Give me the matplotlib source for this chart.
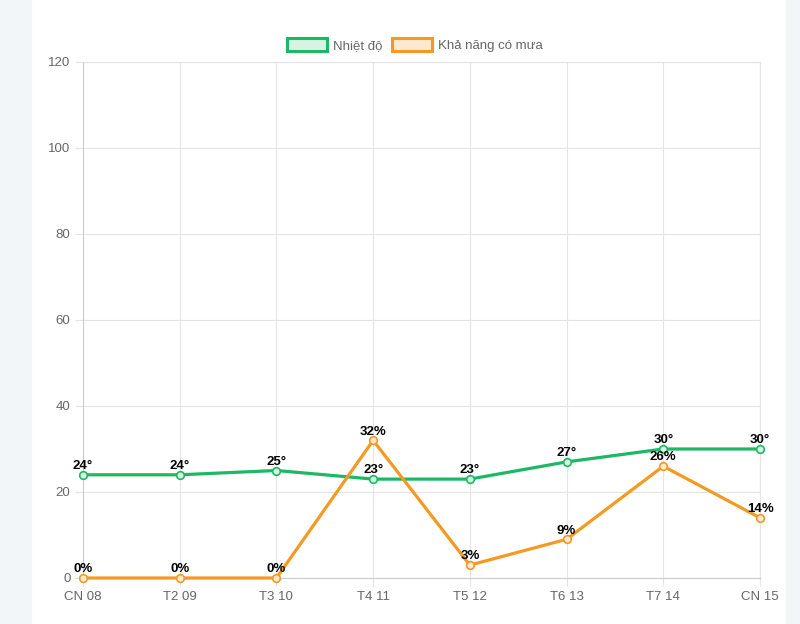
import numpy as np
import matplotlib
matplotlib.use('Agg')
import matplotlib.pyplot as plt
from matplotlib.patches import Patch, Rectangle

plt.rcParams['font.family'] = ['Liberation Sans', 'DejaVu Sans']

days = ['CN 08', 'T2 09', 'T3 10', 'T4 11', 'T5 12', 'T6 13', 'T7 14', 'CN 15']
temp = [24, 24, 25, 23, 23, 27, 30, 30]
rain = [0, 0, 0, 32, 3, 9, 26, 14]
yticks = [0, 20, 40, 60, 80, 100, 120]

green = '#1cb864'
orange = '#f49a23'

fig = plt.figure(figsize=(8, 6.24), dpi=100)
fig.patch.set_facecolor('white')
# grey page margins
fig.patches.append(Rectangle((0, 0), 31/800, 1, transform=fig.transFigure,
                             color='#f3f6f8', zorder=-1))
fig.patches.append(Rectangle((786/800, 0), 14/800, 1, transform=fig.transFigure,
                             color='#f3f6f8', zorder=-1))

ax = fig.add_axes([83/800, 46/624, 677/800, 516/624])
x = np.arange(len(days))

ax.plot(x, temp, color=green, lw=2.3, marker='o', ms=5.5,
        mfc='#d6f3e3', mec=green, mew=1.2, zorder=3, clip_on=False)
ax.plot(x, rain, color=orange, lw=2.3, marker='o', ms=5.5,
        mfc='#fde9cf', mec=orange, mew=1.2, zorder=3, clip_on=False)

for i in range(len(days)):
    ax.annotate(f'{temp[i]}°', (x[i], temp[i]), xytext=(0, 2),
                textcoords='offset points', ha='center', va='bottom',
                fontsize=9.5, fontweight='bold', color='black', zorder=5)
    ax.annotate(f'{rain[i]}%', (x[i], rain[i]), xytext=(0, 2),
                textcoords='offset points', ha='center', va='bottom',
                fontsize=9.5, fontweight='bold', color='black', zorder=5)

ax.set_xlim(0, len(days) - 1)
ax.set_ylim(0, 120)
ax.set_xticks(x)
ax.set_xticklabels(days)
ax.set_yticks(yticks)
ax.grid(True, color='#e4e4e4', lw=0.8)
ax.set_axisbelow(True)
for s in ax.spines.values():
    s.set_color('#e4e4e4')
    s.set_linewidth(0.8)
ax.spines['left'].set_color('#cccccc')
ax.spines['bottom'].set_color('#cccccc')
ax.tick_params(colors='#e4e4e4', labelcolor='#666666', labelsize=9.5,
               length=6, width=0.8, pad=3)
ax.set_facecolor('white')

handles = [Patch(facecolor='#d6f3e3', edgecolor=green, lw=2.2, label='Nhiệt độ'),
           Patch(facecolor='#fde9cf', edgecolor=orange, lw=2.2, label='Khả năng có mưa')]
leg = fig.legend(handles=handles, loc='center', bbox_to_anchor=(415/800, 1 - 45/624),
                 ncol=2, frameon=False, fontsize=9.5, handlelength=3.0, handleheight=1.1,
                 columnspacing=0.7, handletextpad=0.5)
for t in leg.get_texts():
    t.set_color('#666666')

plt.savefig('out.png', dpi=100)
